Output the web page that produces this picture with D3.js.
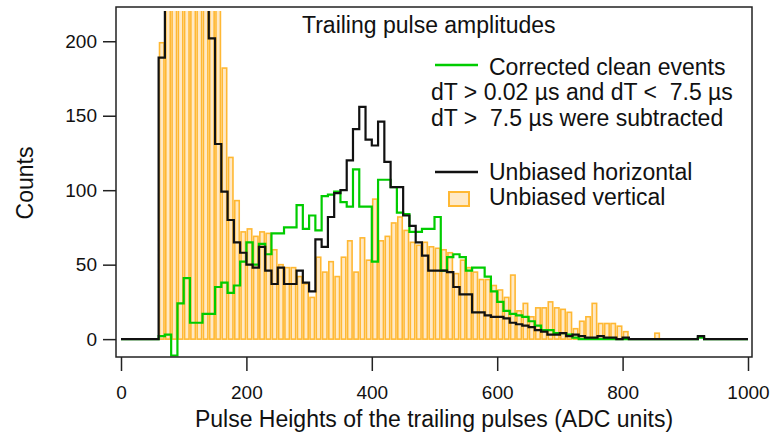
<!DOCTYPE html>
<html>
<head>
<meta charset="utf-8">
<script src="https://cdn.jsdelivr.net/npm/d3@7"></script>
<style>
  body { margin: 0; background: #fff; }
  text { font-family: "Liberation Sans", Arial, sans-serif; fill: #111; }
</style>
</head>
<body>
<svg id="chart" width="770" height="435"></svg>
<script>
// Histogram bins are 10 ADC units wide, starting at 0
var binWidth = 10;

// Unbiased horizontal (black steps)
var horizontal = [
    0, 0, 0, 0, 0, 0,
    189, 300, 330, 320, 330, 300, 290, 260,
    202, 131, 99, 80, 65, 58, 50, 48,
    62, 46, 37, 48, 37, 37, 46, 38,
    32, 67, 62, 82, 98, 100, 120, 141,
    156, 134, 130, 146, 119, 102, 102, 83,
    76, 65, 56, 46, 46, 46, 45, 35,
    30, 30, 18, 18, 16, 15, 15, 14,
    11, 10, 9, 8, 6, 5, 3, 3,
    4, 2, 3, 2, 1, 1, 2, 1,
    1, 0, 1, 0, 0, 0, 0, 0,
    0, 0, 0, 0, 0, 0, 2, 0,
    0, 0, 0, 0, 0, 0
];

// Corrected clean events (green steps)
var corrected = [
    0, 0, 0, 0, 0, 0,
    2, 3, -11, 24, 41, 11, 11, 17,
    17, 35, 38, 31, 36, 52, 65, 50,
    64, 57, 71, 71, 75, 75, 90, 74,
    83, 73, 96, 97, 99, 92, 89, 114,
    89, 89, 52, 107, 107, 102, 85, 84,
    72, 72, 74, 74, 82, 46, 55, 57,
    55, 46, 48, 48, 42, 32, 25, 19,
    17, 16, 15, 12, 9, 6, 6, 4,
    4, 3, 1, 0, 0, 0, 0, 0,
    0, 0, 0, 0, 0, 0, 0, 0,
    0, 0, 0, 0, 0, 0, 1, 0,
    0, 0, 0, 0, 0, 0
];

// Unbiased vertical (orange bars)
var vertical = [
    0, 0, 0, 0, 0, 0,
    199, 260, 300, 320, 330, 320, 300, 280,
    260, 240, 182, 122, 93, 72, 74, 69,
    72, 71, 60, 50, 48, 48, 42, 37,
    28, 55, 45, 52, 42, 55, 66, 45,
    68, 53, 94, 66, 69, 78, 82, 73,
    65, 63, 65, 62, 61, 60, 58, 44,
    53, 48, 45, 40, 40, 36, 33, 28,
    43, 19, 24, 15, 21, 21, 25, 21,
    20, 18, 7, 12, 15, 24, 10.5, 10.5,
    10.5, 8.7, 5, 0, 0, 0, 0, 4,
    0, 0, 0, 0, 0, 0, 0, 0,
    0, 0, 0, 0, 0, 0
];

var xTicks = [0, 200, 400, 600, 800, 1000];
var yTicks = [0, 50, 100, 150, 200];

var svg = d3.select('#chart');

// Plot frame
var frame = {l: 116, r: 752, t: 7, b: 357};

var x = d3.scaleLinear().domain([0, 1000]).range([121, 748]);
var y = d3.scaleLinear().domain([-12, 223]).range([frame.b, frame.t]);

svg.append('defs').append('clipPath')
    .attr('id', 'plotClip')
    .append('rect')
    .attr('x', frame.l)
    .attr('y', 11)
    .attr('width', frame.r - frame.l)
    .attr('height', frame.b - 11);

var plotG = svg.append('g').attr('clip-path', 'url(#plotClip)');

// Orange bars
var bars = vertical.map(function(v, i) { return {x0: i * binWidth, v: v}; })
    .filter(function(d) { return d.v > 0; });

plotG.selectAll('.vbar')
    .data(bars)
    .enter()
    .append('rect')
    .attr('class', 'vbar')
    .attr('x', function(d) { return x(d.x0) + 0.9; })
    .attr('width', function(d) { return x(d.x0 + binWidth) - x(d.x0) - 1.8; })
    .attr('y', function(d) { return y(d.v); })
    .attr('height', function(d) { return y(0) - y(d.v); })
    .attr('fill', '#ffe9c6')
    .attr('stroke', '#ffb833')
    .attr('stroke-width', 1.6);

// Step lines
function stepPoints(values) {
    var pts = values.map(function(v, i) { return [i * binWidth, v]; });
    pts.push([values.length * binWidth, values[values.length - 1]]);
    return pts;
}

var step = d3.line()
    .x(function(d) { return x(Math.min(d[0], 1000)); })
    .y(function(d) { return y(d[1]); })
    .curve(d3.curveStepAfter);

plotG.append('path')
    .attr('d', step(stepPoints(corrected)))
    .attr('fill', 'none')
    .attr('stroke', '#00cc00')
    .attr('stroke-width', 2.2);

plotG.append('path')
    .attr('d', step(stepPoints(horizontal)))
    .attr('fill', 'none')
    .attr('stroke', '#111')
    .attr('stroke-width', 2.2);

// Frame
svg.append('rect')
    .attr('x', frame.l)
    .attr('y', frame.t)
    .attr('width', frame.r - frame.l)
    .attr('height', frame.b - frame.t)
    .attr('fill', 'none')
    .attr('stroke', '#222')
    .attr('stroke-width', 1.5);

// Axes
var xAxis = svg.append('g')
    .attr('transform', 'translate(0,' + frame.b + ')')
    .call(d3.axisBottom(x).tickValues(xTicks).tickSize(14).tickSizeOuter(0)
        .tickFormat(d3.format('d')));
xAxis.select('.domain').remove();
xAxis.selectAll('line').attr('stroke', '#222').attr('stroke-width', 1.5);
xAxis.selectAll('text')
    .attr('y', 42).attr('dy', 0)
    .style('font-size', '19px')
    .attr('fill', '#111');

var yAxis = svg.append('g')
    .attr('transform', 'translate(' + frame.l + ',0)')
    .call(d3.axisLeft(y).tickValues(yTicks).tickSize(13).tickPadding(6).tickSizeOuter(0));
yAxis.select('.domain').remove();
yAxis.selectAll('line').attr('stroke', '#222').attr('stroke-width', 1.5);
yAxis.selectAll('text')
    .style('font-size', '19px')
    .attr('fill', '#111');

// Axis titles
svg.append('text')
    .attr('x', 434)
    .attr('y', 427)
    .attr('text-anchor', 'middle')
    .style('font-size', '23px')
    .text('Pulse Heights of the trailing pulses (ADC units)');

svg.append('text')
    .attr('transform', 'translate(33,183) rotate(-90)')
    .attr('text-anchor', 'middle')
    .style('font-size', '23px')
    .text('Counts');

// Title and legend
var legend = svg.append('g');

legend.append('text')
    .attr('x', 302).attr('y', 33)
    .style('font-size', '23px')
    .text('Trailing pulse amplitudes');

legend.append('line')
    .attr('x1', 435).attr('x2', 478).attr('y1', 65).attr('y2', 65)
    .attr('stroke', '#00cc00').attr('stroke-width', 2.5);
legend.append('text')
    .attr('x', 489).attr('y', 75)
    .style('font-size', '23px')
    .text('Corrected clean events');

legend.append('text')
    .attr('x', 431).attr('y', 100)
    .style('font-size', '23px').style('white-space', 'pre')
    .text('dT > 0.02 µs and dT <  7.5 µs');
legend.append('text')
    .attr('x', 431).attr('y', 126)
    .style('font-size', '23px').style('white-space', 'pre')
    .text('dT >  7.5 µs were subtracted');

legend.append('line')
    .attr('x1', 435).attr('x2', 478).attr('y1', 172).attr('y2', 172)
    .attr('stroke', '#111').attr('stroke-width', 2.5);
legend.append('text')
    .attr('x', 489).attr('y', 180)
    .style('font-size', '23px')
    .text('Unbiased horizontal');

legend.append('rect')
    .attr('x', 449).attr('y', 192).attr('width', 20).attr('height', 14)
    .attr('fill', '#ffe9c6').attr('stroke', '#ffb833').attr('stroke-width', 2);
legend.append('text')
    .attr('x', 489).attr('y', 205)
    .style('font-size', '23px')
    .text('Unbiased vertical');
</script>
</body>
</html>
